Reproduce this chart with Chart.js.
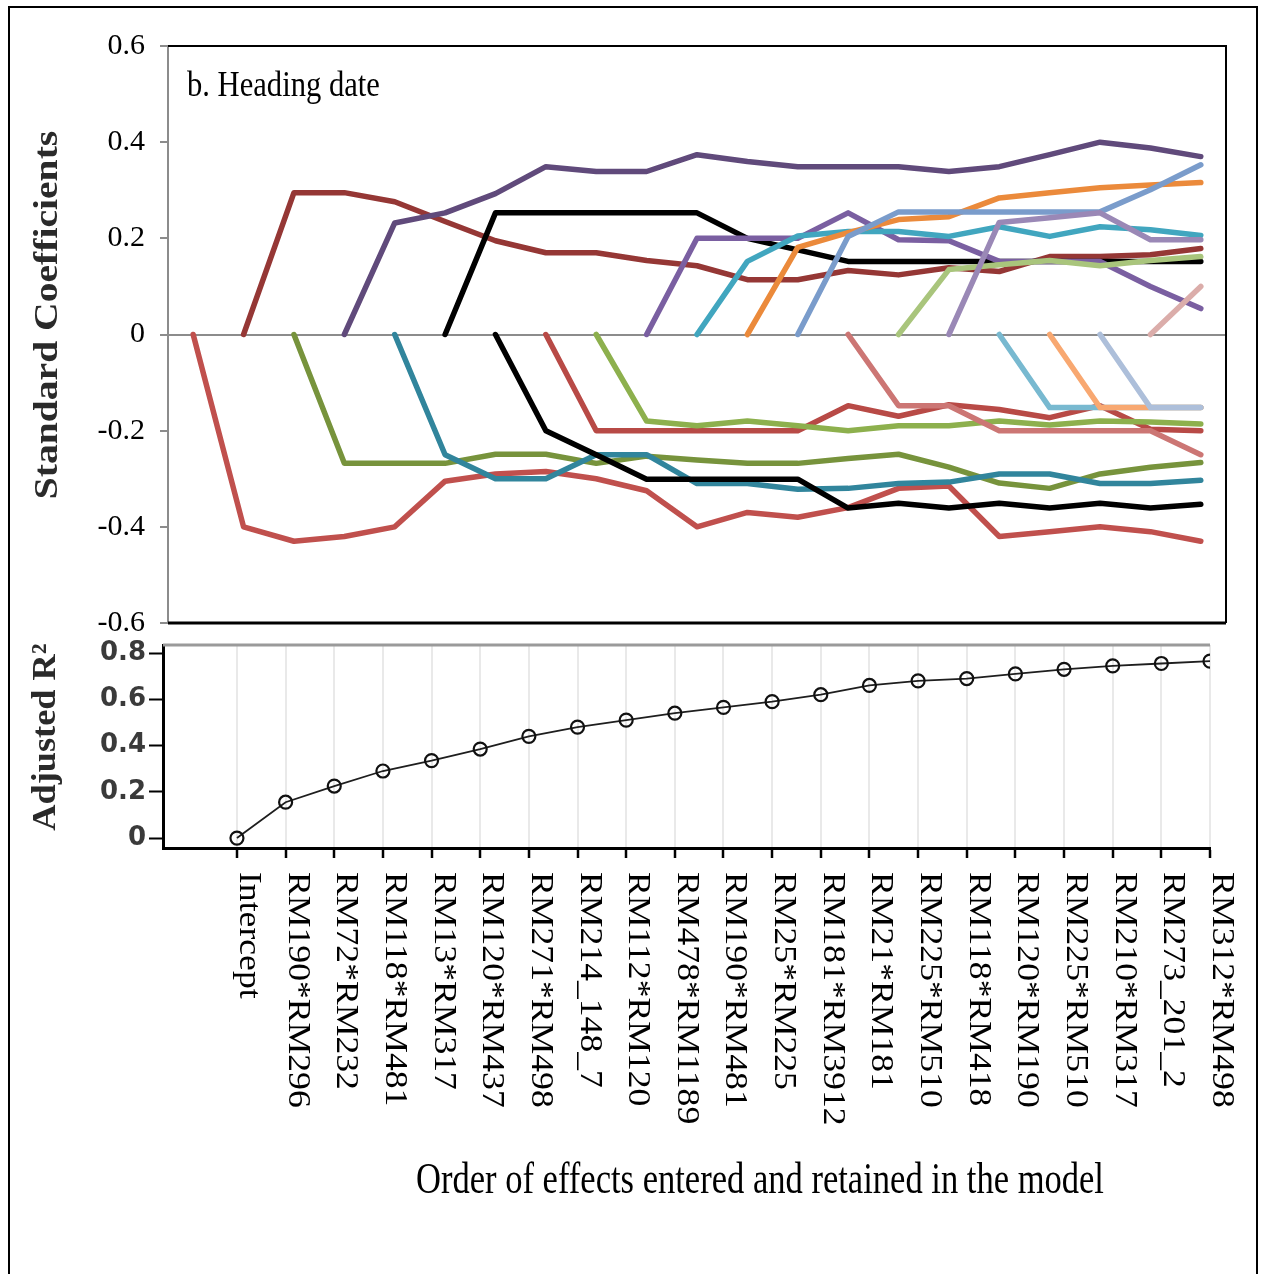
<!DOCTYPE html>
<html>
<head>
<meta charset="utf-8">
<script src="https://cdn.jsdelivr.net/npm/chart.js@4.4.1/dist/chart.umd.min.js"></script>
<style>
  html, body { margin: 0; padding: 0; background: #fff; }
  #page { position: relative; width: 1261px; height: 1274px; overflow: hidden; background: #fff; }
  #frame { position: absolute; left: 8px; top: 6px; width: 1246px; height: 1280px; border: 2px solid #000; }
  #coef { position: absolute; left: 0; top: 0; }
  #r2 { position: absolute; left: 0; top: 630px; }
</style>
</head>
<body>
<div id="page">
  <div id="frame"></div>
  <canvas id="coef" width="1261" height="640"></canvas>
  <canvas id="r2" width="1261" height="644"></canvas>
</div>
<script>
// Order in which effects entered the stepwise model
const steps = ['Intercept', 'RM190*RM296', 'RM72*RM232', 'RM118*RM481', 'RM13*RM317', 'RM120*RM437',
  'RM271*RM498', 'RM214_148_7', 'RM112*RM120', 'RM478*RM1189', 'RM190*RM481', 'RM25*RM225',
  'RM181*RM3912', 'RM21*RM181', 'RM225*RM510', 'RM118*RM418', 'RM120*RM190', 'RM225*RM510',
  'RM210*RM317', 'RM273_201_2', 'RM312*RM498'];

// Standardized coefficient path of each effect, one value per step (null before it enters)
const cRM190_RM296 = [0, -0.40, -0.43, -0.42, -0.40, -0.305, -0.29, -0.285, -0.30, -0.325, -0.40, -0.37, -0.38, -0.36, -0.32, -0.315, -0.42, -0.41, -0.40, -0.41, -0.43];
const cRM72_RM232 = [null, 0, 0.295, 0.295, 0.276, 0.235, 0.195, 0.17, 0.17, 0.154, 0.143, 0.114, 0.114, 0.133, 0.124, 0.139, 0.131, 0.162, 0.162, 0.166, 0.179];
const cRM118_RM481 = [null, null, 0, -0.268, -0.268, -0.268, -0.249, -0.249, -0.268, -0.253, -0.261, -0.268, -0.268, -0.258, -0.249, -0.276, -0.309, -0.32, -0.29, -0.276, -0.266];
const cRM13_RM317 = [null, null, null, 0, 0.232, 0.253, 0.293, 0.349, 0.339, 0.339, 0.374, 0.36, 0.349, 0.349, 0.349, 0.339, 0.349, 0.374, 0.40, 0.388, 0.37];
const cRM120_RM437 = [null, null, null, null, 0, -0.25, -0.30, -0.30, -0.25, -0.25, -0.31, -0.31, -0.322, -0.32, -0.31, -0.307, -0.29, -0.29, -0.31, -0.31, -0.303];
const cRM271_RM498 = [null, null, null, null, null, 0, 0.253, 0.253, 0.253, 0.253, 0.253, 0.20, 0.176, 0.152, 0.152, 0.152, 0.152, 0.152, 0.152, 0.152, 0.152];
const cRM214_148_7 = [null, null, null, null, null, null, 0, -0.20, -0.25, -0.301, -0.301, -0.301, -0.301, -0.361, -0.351, -0.361, -0.351, -0.361, -0.351, -0.361, -0.353];
const cRM112_RM120 = [null, null, null, null, null, null, null, 0, -0.20, -0.20, -0.20, -0.20, -0.20, -0.148, -0.17, -0.146, -0.156, -0.173, -0.148, -0.197, -0.20];
const cRM478_RM1189 = [null, null, null, null, null, null, null, null, 0, -0.18, -0.19, -0.18, -0.19, -0.20, -0.19, -0.19, -0.18, -0.188, -0.18, -0.182, -0.186];
const cRM190_RM481 = [null, null, null, null, null, null, null, null, null, 0, 0.20, 0.20, 0.20, 0.253, 0.197, 0.195, 0.152, 0.152, 0.152, 0.10, 0.054];
const cRM25_RM225 = [null, null, null, null, null, null, null, null, null, null, 0, 0.152, 0.205, 0.214, 0.214, 0.204, 0.224, 0.204, 0.224, 0.218, 0.206];
const cRM181_RM3912 = [null, null, null, null, null, null, null, null, null, null, null, 0, 0.181, 0.212, 0.239, 0.245, 0.284, 0.295, 0.305, 0.311, 0.316];
const cRM21_RM181 = [null, null, null, null, null, null, null, null, null, null, null, null, 0, 0.204, 0.255, 0.255, 0.255, 0.255, 0.255, 0.301, 0.353];
const cRM225_RM510 = [null, null, null, null, null, null, null, null, null, null, null, null, null, 0, -0.148, -0.148, -0.20, -0.20, -0.20, -0.20, -0.25];
const cRM118_RM418 = [null, null, null, null, null, null, null, null, null, null, null, null, null, null, 0, 0.135, 0.145, 0.154, 0.143, 0.154, 0.162];
const cRM120_RM190 = [null, null, null, null, null, null, null, null, null, null, null, null, null, null, null, 0, 0.233, 0.243, 0.253, 0.197, 0.197];
const cRM225_RM510b = [null, null, null, null, null, null, null, null, null, null, null, null, null, null, null, null, 0, -0.152, -0.152, -0.152, -0.152];
const cRM210_RM317 = [null, null, null, null, null, null, null, null, null, null, null, null, null, null, null, null, null, 0, -0.152, -0.152, -0.152];
const cRM273_201_2 = [null, null, null, null, null, null, null, null, null, null, null, null, null, null, null, null, null, null, 0, -0.152, -0.152];
const cRM312_RM498 = [null, null, null, null, null, null, null, null, null, null, null, null, null, null, null, null, null, null, null, 0, 0.10];

// Adjusted R-squared after each step
const adjR2 = [0, 0.155, 0.225, 0.29, 0.335, 0.385, 0.44, 0.48, 0.51, 0.54, 0.565, 0.59, 0.62, 0.66, 0.68, 0.69, 0.71, 0.73, 0.745, 0.755, 0.765];

// Axis tick values and labels
const coefTickValues = [-0.6, -0.4, -0.2, 0, 0.2, 0.4, 0.6];
const coefTickLabels = ['-0.6', '-0.4', '-0.2', '0', '0.2', '0.4', '0.6'];
const r2TickValues = [0, 0.2, 0.4, 0.6, 0.8];
const r2TickLabels = ['0', '0.2', '0.4', '0.6', '0.8'];

const coefSeries = [cRM190_RM296, cRM72_RM232, cRM118_RM481, cRM13_RM317, cRM120_RM437, cRM271_RM498,
  cRM214_148_7, cRM112_RM120, cRM478_RM1189, cRM190_RM481, cRM25_RM225, cRM181_RM3912, cRM21_RM181,
  cRM225_RM510, cRM118_RM418, cRM120_RM190, cRM225_RM510b, cRM210_RM317, cRM273_201_2, cRM312_RM498];
const coefColors = ['#C0504D', '#953735', '#77933C', '#604A7B', '#31859C', '#000000',
  '#000000', '#B84A46', '#8DB04D', '#7A5FA1', '#41A6BF', '#EB8A3B', '#7A9CCB',
  '#CC7674', '#A9C57C', '#9A88B6', '#78B9D0', '#F8A871', '#ADBFDA', '#DBADAA'];

Chart.defaults.font.family = '"Liberation Serif", "Times New Roman", serif';
Chart.defaults.color = '#000';

const serif = '"Liberation Serif", "Times New Roman", serif';

// Frame lines, panel label and axis title of the coefficient panel
const coefDecor = {
  id: 'coefDecor',
  afterDraw(chart) {
    const { ctx, chartArea: a } = chart;
    ctx.save();
    ctx.strokeStyle = '#000';
    ctx.lineWidth = 2;
    ctx.beginPath();
    ctx.moveTo(a.left, a.top); ctx.lineTo(a.right, a.top); ctx.lineTo(a.right, a.bottom);
    ctx.stroke();
    ctx.lineWidth = 3;
    ctx.beginPath();
    ctx.moveTo(a.left, a.bottom); ctx.lineTo(a.right, a.bottom);
    ctx.stroke();
    ctx.restore();

    ctx.save();
    ctx.fillStyle = '#000';
    ctx.font = '36px ' + serif;
    ctx.textAlign = 'left';
    ctx.textBaseline = 'alphabetic';
    ctx.translate(a.left + 19, a.top + 50);
    ctx.scale(0.85, 1);
    ctx.fillText('b. Heading date', 0, 0);
    ctx.restore();

    ctx.save();
    ctx.fillStyle = '#2a2a2a';
    ctx.font = 'bold 33px ' + serif;
    ctx.textAlign = 'center';
    ctx.textBaseline = 'alphabetic';
    ctx.translate(57, 315);
    ctx.rotate(-Math.PI / 2);
    ctx.scale(1.2, 1);
    ctx.fillText('Standard Coefficients', 0, 0);
    ctx.restore();
  }
};

new Chart(document.getElementById('coef'), {
  type: 'line',
  data: {
    labels: steps,
    datasets: coefSeries.map((vals, k) => ({
      label: steps[k + 1],
      data: vals,
      borderColor: coefColors[k],
      borderWidth: 5.5,
      borderCapStyle: 'round',
      borderJoinStyle: 'round',
      pointRadius: 0,
      tension: 0,
      spanGaps: false,
      order: -k
    }))
  },
  options: {
    responsive: false,
    devicePixelRatio: 1,
    animation: false,
    layout: { padding: { left: 0, right: 35, top: 46, bottom: 17 } },
    plugins: { legend: { display: false }, tooltip: { enabled: false } },
    scales: {
      x: { type: 'category', offset: true, display: false },
      y: {
        min: -0.6, max: 0.6,
        afterBuildTicks: s => { s.ticks = coefTickValues.map(v => ({ value: v })); },
        afterFit: s => { s.width = 168; s.paddingTop = 0; s.paddingBottom = 0; },
        ticks: {
          font: { size: 30, family: serif },
          color: '#000',
          padding: 15,
          callback: (v, i) => coefTickLabels[i]
        },
        grid: {
          drawOnChartArea: true,
          color: c => (c.tick && c.tick.value === 0 ? '#8c8c8c' : 'rgba(0,0,0,0)'),
          lineWidth: 2,
          tickColor: '#8c8c8c',
          tickLength: 8,
          tickWidth: 2
        },
        border: { color: '#8c8c8c', width: 2 }
      }
    }
  },
  plugins: [coefDecor]
});

// Top edge, rotated step labels and axis titles of the R-squared panel
const r2Decor = {
  id: 'r2Decor',
  afterDraw(chart) {
    const { ctx, chartArea: a } = chart;
    const xs = chart.scales.x;
    ctx.save();
    ctx.strokeStyle = '#9a9a9a';
    ctx.lineWidth = 3;
    ctx.beginPath();
    ctx.moveTo(a.left, a.top); ctx.lineTo(a.right, a.top);
    ctx.stroke();
    ctx.restore();

    steps.forEach((name, i) => {
      const x = xs.getPixelForValue(i);
      ctx.save();
      ctx.fillStyle = '#000';
      ctx.font = '31px ' + serif;
      ctx.textAlign = 'left';
      ctx.textBaseline = 'alphabetic';
      ctx.translate(x + 3, a.bottom + 24);
      ctx.rotate(Math.PI / 2);
      ctx.scale(1.15, 1);
      ctx.fillText(name, 0, 0);
      ctx.restore();
    });

    ctx.save();
    ctx.fillStyle = '#000';
    ctx.font = '44px ' + serif;
    ctx.textAlign = 'center';
    ctx.textBaseline = 'alphabetic';
    ctx.translate(760, 563);
    ctx.scale(0.785, 1);
    ctx.fillText('Order of effects entered and retained in the model', 0, 0);
    ctx.restore();

    ctx.save();
    ctx.fillStyle = '#2a2a2a';
    ctx.font = 'bold 33px ' + serif;
    ctx.textAlign = 'center';
    ctx.textBaseline = 'alphabetic';
    ctx.translate(55, 107);
    ctx.rotate(-Math.PI / 2);
    ctx.scale(1.1, 1);
    ctx.fillText('Adjusted R\u00B2', 0, 0);
    ctx.restore();
  }
};

new Chart(document.getElementById('r2'), {
  type: 'line',
  data: {
    datasets: [{
      label: 'Adjusted R\u00B2',
      data: adjR2.map((v, i) => ({ x: i, y: v })),
      borderColor: '#1e1e1e',
      borderWidth: 1.8,
      tension: 0,
      pointStyle: 'circle',
      pointRadius: 6.5,
      pointBorderWidth: 2.2,
      pointBorderColor: '#111',
      pointBackgroundColor: 'rgba(255,255,255,0)'
    }]
  },
  options: {
    responsive: false,
    devicePixelRatio: 1,
    animation: false,
    layout: { padding: { left: 0, right: 51, top: 15, bottom: 0 } },
    plugins: { legend: { display: false }, tooltip: { enabled: false } },
    scales: {
      x: {
        type: 'linear', min: -1.52, max: 20,
        afterBuildTicks: s => { s.ticks = steps.map((_, i) => ({ value: i })); },
        afterFit: s => { s.height = 426; s.paddingLeft = 0; s.paddingRight = 0; },
        ticks: { display: false },
        grid: { color: '#e9e9e9', lineWidth: 2, tickColor: '#000', tickLength: 10, tickWidth: 2.5 },
        border: { color: '#000', width: 3 }
      },
      y: {
        min: -0.043, max: 0.835,
        afterBuildTicks: s => { s.ticks = r2TickValues.map(v => ({ value: v })); },
        afterFit: s => { s.width = 163; s.paddingTop = 0; s.paddingBottom = 0; },
        ticks: {
          font: { size: 26, family: '"DejaVu Sans", sans-serif', weight: 'bold' },
          color: '#3a3a3a',
          padding: 3,
          callback: (v, i) => r2TickLabels[i]
        },
        grid: { drawOnChartArea: false, tickColor: '#000', tickLength: 14, tickWidth: 2 },
        border: { color: '#000', width: 3 }
      }
    }
  },
  plugins: [r2Decor]
});
</script>
</body>
</html>
